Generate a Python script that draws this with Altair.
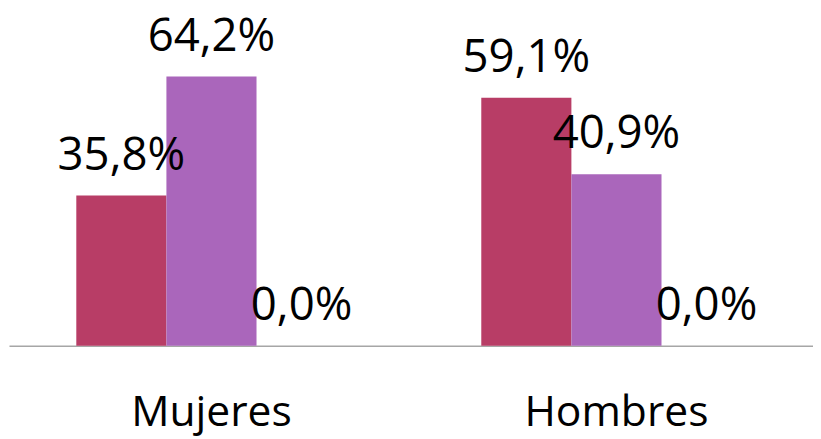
import altair as alt
import pandas as pd

categories = ["Mujeres", "Hombres"]
series = ["Serie 1", "Serie 2", "Serie 3"]
values_mujeres = [35.8, 64.2, 0.0]
values_hombres = [59.1, 40.9, 0.0]
colors = ["#B83D66", "#AA66BB", "#7F7F7F"]

rows = []
for cat, vals in zip(categories, [values_mujeres, values_hombres]):
    for s, v in zip(series, vals):
        rows.append({"grupo": cat, "serie": s, "valor": v,
                     "etiqueta": f"{v:.1f}".replace(".", ",") + "%"})
df = pd.DataFrame(rows)

FONT = "Open Sans"

x = alt.X("grupo:N", sort=categories, title=None,
          scale=alt.Scale(paddingInner=0.3325, paddingOuter=0.1589, align=0.523),
          axis=alt.Axis(labelAngle=0, ticks=False, tickSize=0, labelPadding=81,
                        labelBaseline="alphabetic", labelFont=FONT, labelFontSize=43,
                        labelLimit=0, labelColor="#000000", domainColor="#A6A6A6",
                        domainWidth=1.5, grid=False))
xo = alt.XOffset("serie:N", sort=series, scale=alt.Scale(paddingInner=0, paddingOuter=0))
y = alt.Y("valor:Q", title=None, scale=alt.Scale(domain=[0, 80], nice=False), axis=None)

base = alt.Chart(df)
bars = base.mark_bar().encode(
    x=x, xOffset=xo, y=y,
    color=alt.Color("serie:N", sort=series, scale=alt.Scale(domain=series, range=colors), legend=None),
)
labels = base.mark_text(font=FONT, fontSize=46, color="#000000", align="center",
                        baseline="alphabetic", dy=-26).encode(
    x=x, xOffset=xo, y=y, text="etiqueta:N",
)

chart = alt.layer(bars, labels).properties(
    width=812, height=339,
    autosize=alt.AutoSizeParams(type="none"),
    padding={"left": 1, "top": 0, "right": 0, "bottom": 92},
).configure_view(stroke=None)

chart.save("out.html", embed_options={"renderer": "svg", "actions": False})
